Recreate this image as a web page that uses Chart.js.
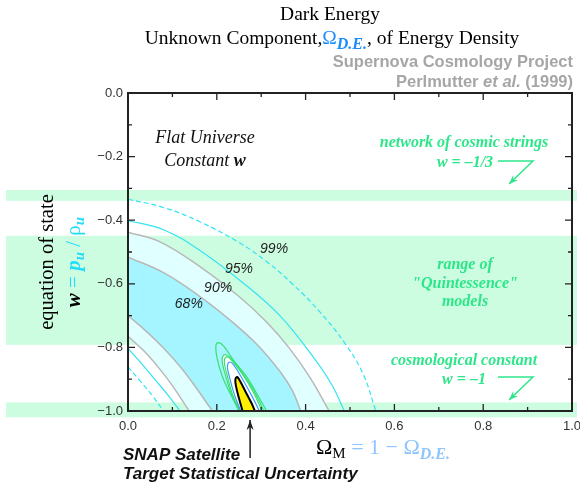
<!DOCTYPE html>
<html>
<head>
<meta charset="utf-8">
<script src="https://cdn.jsdelivr.net/npm/chart.js@4.4.0/dist/chart.umd.min.js"></script>
<style>
  html, body { margin: 0; padding: 0; background: #fff; }
  canvas { display: block; }
</style>
</head>
<body>
<canvas id="chart" width="580" height="487"></canvas>
<script>
// Axis ticks
const xTicks = [0, 0.2, 0.4, 0.6, 0.8, 1.0];
const yTicks = [0, -0.2, -0.4, -0.6, -0.8, -1.0];

// Theory bands (w ranges)
const bandStrings = [-0.305, -0.339];
const bandQuintessence = [-0.449, -0.792];
const bandLambda = [-0.973, -1.02];

// Confidence contours, points are [Omega_M, w]
const outer99 = [[0, -0.334], [0.08, -0.36], [0.162, -0.405], [0.25, -0.47], [0.312, -0.53], [0.37, -0.6], [0.43, -0.685], [0.49, -0.79], [0.53, -0.885], [0.558, -1]];
const outer95 = [[0, -0.401], [0.08, -0.43], [0.162, -0.495], [0.26, -0.598], [0.342, -0.70], [0.417, -0.83], [0.46, -0.92], [0.487, -1]];
const outer90 = [[0, -0.438], [0.072, -0.468], [0.162, -0.546], [0.25, -0.64], [0.312, -0.72], [0.362, -0.80], [0.41, -0.895], [0.453, -1]];
const outer68 = [[0, -0.516], [0.08, -0.565], [0.162, -0.64], [0.23, -0.714], [0.29, -0.79], [0.342, -0.875], [0.37, -0.935], [0.389, -1]];
const inner68 = [[0, -0.70], [0.04, -0.748], [0.08, -0.802], [0.12, -0.865], [0.155, -0.93], [0.19, -1]];
const inner90 = [[0, -0.765], [0.035, -0.81], [0.068, -0.862], [0.1, -0.92], [0.138, -1]];
const inner95 = [[0, -0.803], [0.03, -0.85], [0.06, -0.9], [0.09, -0.95], [0.117, -1]];
const inner99 = [[0, -0.861], [0.027, -0.905], [0.055, -0.952], [0.08, -1]];

// SNAP target contours (upper half, centred on w = -1)
const snapGreen1 = [[0.25, -1], [0.232, -0.95], [0.212, -0.89], [0.2, -0.83], [0.198, -0.795], [0.203, -0.785], [0.215, -0.795], [0.24, -0.845], [0.267, -0.892], [0.29, -0.945], [0.312, -1]];
const snapGreen2 = [[0.252, -1], [0.234, -0.95], [0.218, -0.88], [0.212, -0.84], [0.217, -0.823], [0.228, -0.83], [0.255, -0.875], [0.283, -0.935], [0.306, -1]];
const snapGreen3 = [[0.253, -1], [0.236, -0.95], [0.222, -0.88], [0.217, -0.845], [0.222, -0.83], [0.232, -0.838], [0.258, -0.885], [0.282, -0.94], [0.302, -1]];
const snapBlue = [[0.254, -1], [0.24, -0.95], [0.228, -0.89], [0.224, -0.86], [0.229, -0.846], [0.238, -0.855], [0.258, -0.9], [0.278, -0.95], [0.296, -1]];
const snapCore = [[0.258, -1], [0.25, -0.96], [0.243, -0.92], [0.242, -0.9], [0.246, -0.893], [0.252, -0.905], [0.265, -0.94], [0.278, -0.975], [0.286, -1]];
const snapFiducial = 0.275;

// Percent labels [text, Omega_M, w]
const percentLabels = [['99%', 0.329, -0.49], ['95%', 0.25, -0.553], ['90%', 0.203, -0.613], ['68%', 0.137, -0.664]];

const SERIF = '"Liberation Serif", "Times New Roman", serif';
const SANS = '"Liberation Sans", Arial, sans-serif';
const GREEN = '#2ee68a';
const CYAN = '#33e4f2';
const GRAY = '#b8b8b8';

function pts(list) {
  return list.map(p => ({ x: p[0], y: p[1] }));
}

// Extends an inner curve along w = -1 so it can be used as fill target
// (the part on w = -1 sits under the frame line)
function comFundo(inner, outer) {
  const last = inner[inner.length - 1];
  return inner.concat([[last[0] + 0.001, -1], [outer[outer.length - 1][0], -1]]);
}

function linha(list, color, extra) {
  return Object.assign({
    data: pts(list),
    borderColor: color,
    borderWidth: 1.2,
    pointRadius: 0,
    tension: 0.4,
    fill: false
  }, extra);
}

const datasets = [];
datasets.push(linha(snapCore, '#000', { borderWidth: 2, fill: 'shape', backgroundColor: '#ffee00', order: 0 }));
datasets.push(linha(snapBlue, '#3a9cff', { order: 1 }));
datasets.push(linha(snapGreen3, '#38e070', { order: 2 }));
datasets.push(linha(snapGreen2, '#38e070', { fill: 'shape', backgroundColor: '#ffffff', order: 3 }));
datasets.push(linha(snapGreen1, '#38e070', { order: 4 }));
datasets.push(linha(outer99, CYAN, { borderDash: [5, 3], order: 5 }));
datasets.push(linha(inner99, CYAN, { borderDash: [5, 3], order: 5 }));
datasets.push(linha(outer95, CYAN, { order: 6 }));
datasets.push(linha(inner95, CYAN, { order: 6 }));
const idxIn68 = datasets.length;
datasets.push(linha(comFundo(inner68, outer68), GRAY, { borderWidth: 1.5, order: 7 }));
datasets.push(linha(outer68, GRAY, { borderWidth: 1.5, fill: idxIn68, backgroundColor: '#a4f5ff', order: 8 }));
const idxIn90 = datasets.length;
datasets.push(linha(comFundo(inner90, outer90), GRAY, { borderWidth: 1.5, order: 9 }));
datasets.push(linha(outer90, GRAY, { borderWidth: 1.5, fill: idxIn90, backgroundColor: '#e0ffff', order: 10 }));

// Draws text made of several styled pieces
function textoRuns(ctx, runs, x, y, align) {
  let total = 0;
  runs.forEach(r => { ctx.font = r[1]; total += ctx.measureText(r[0]).width; });
  let cx = align === 'center' ? x - total / 2 : (align === 'right' ? x - total : x);
  ctx.textAlign = 'left';
  ctx.textBaseline = 'alphabetic';
  runs.forEach(r => {
    ctx.font = r[1];
    ctx.fillStyle = r[2];
    ctx.fillText(r[0], cx, y + (r[3] || 0));
    cx += ctx.measureText(r[0]).width;
  });
}

function seta(ctx, path, color, width, head) {
  ctx.save();
  ctx.strokeStyle = color;
  ctx.fillStyle = color;
  ctx.lineWidth = width;
  ctx.beginPath();
  ctx.moveTo(path[0][0], path[0][1]);
  for (let i = 1; i < path.length; i++) ctx.lineTo(path[i][0], path[i][1]);
  ctx.stroke();
  const [xa, ya] = path[path.length - 2];
  const [xb, yb] = path[path.length - 1];
  const ang = Math.atan2(yb - ya, xb - xa);
  ctx.beginPath();
  ctx.moveTo(xb, yb);
  ctx.lineTo(xb - head * Math.cos(ang) + 3.5 * Math.sin(ang), yb - head * Math.sin(ang) - 3.5 * Math.cos(ang));
  ctx.lineTo(xb - head * 0.7 * Math.cos(ang), yb - head * 0.7 * Math.sin(ang));
  ctx.lineTo(xb - head * Math.cos(ang) - 3.5 * Math.sin(ang), yb - head * Math.sin(ang) + 3.5 * Math.cos(ang));
  ctx.closePath();
  ctx.fill();
  ctx.restore();
}

// Green horizontal bands behind everything
function desenharFaixas(chart) {
  const { ctx, scales: { y } } = chart;
  ctx.save();
  ctx.fillStyle = '#ccfde1';
  [bandStrings, bandQuintessence, bandLambda].forEach(b => {
    const y0 = y.getPixelForValue(b[0]);
    const y1 = y.getPixelForValue(b[1]);
    ctx.fillRect(6, y0, 571, y1 - y0);
  });
  ctx.restore();
}

// Box frame with inward ticks on every side
function desenharMoldura(chart) {
  const { ctx, chartArea: a, scales: { x, y } } = chart;
  ctx.save();
  ctx.strokeStyle = '#222';
  ctx.lineWidth = 2;
  ctx.strokeRect(a.left, a.top, a.right - a.left, a.bottom - a.top);
  ctx.lineWidth = 1.3;
  for (let i = 0; i <= 10; i++) {
    const len = i % 2 === 0 ? 7 : 4;
    const px = x.getPixelForValue(i / 10);
    const py = y.getPixelForValue(-i / 10);
    ctx.beginPath();
    ctx.moveTo(px, a.bottom); ctx.lineTo(px, a.bottom - len);
    ctx.moveTo(px, a.top); ctx.lineTo(px, a.top + len);
    ctx.moveTo(a.left, py); ctx.lineTo(a.left + len, py);
    ctx.moveTo(a.right, py); ctx.lineTo(a.right - len, py);
    ctx.stroke();
  }
  ctx.restore();
}

function desenharTextos(chart) {
  const { ctx, scales: { x, y } } = chart;
  ctx.save();

  // Titles
  textoRuns(ctx, [['Dark Energy', '19.5px ' + SERIF, '#000']], 330, 20, 'center');
  textoRuns(ctx, [
    ['Unknown Component,', '19.5px ' + SERIF, '#000'],
    ['\u03A9', '19.5px ' + SERIF, '#1a8cff'],
    ['D.E.', 'bold italic 16px ' + SERIF, '#1a8cff', 5],
    [', of Energy Density', '19.5px ' + SERIF, '#000']
  ], 332, 44, 'center');
  textoRuns(ctx, [['Supernova Cosmology Project', 'bold 16.5px ' + SANS, '#a6a6a6']], 573, 67, 'right');
  textoRuns(ctx, [
    ['Perlmutter ', 'bold 16.5px ' + SANS, '#a6a6a6'],
    ['et al.', 'bold italic 16.5px ' + SANS, '#a6a6a6'],
    [' (1999)', 'bold 16.5px ' + SANS, '#a6a6a6']
  ], 573, 87, 'right');

  // Axis titles
  textoRuns(ctx, [
    ['\u03A9', '22px ' + SERIF, '#000'],
    ['M', '15px ' + SERIF, '#000', 4],
    [' = 1 \u2212 \u03A9', '22px ' + SERIF, '#8ec5ff'],
    ['D.E.', 'bold italic 16px ' + SERIF, '#8ec5ff', 5]
  ], 383, 454, 'center');

  ctx.save();
  ctx.translate(47, 262);
  ctx.rotate(-Math.PI / 2);
  textoRuns(ctx, [['equation of state', '20.5px ' + SERIF, '#000']], 0, 6, 'center');
  textoRuns(ctx, [
    ['w', 'bold italic 21px ' + SERIF, '#000'],
    [' = ', '21px ' + SERIF, '#22ddf8'],
    ['p', 'bold italic 21px ' + SERIF, '#22ddf8'],
    ['u', 'bold italic 15px ' + SERIF, '#22ddf8', 4],
    [' / ', '21px ' + SERIF, '#22ddf8'],
    ['\u03C1', '21px ' + SERIF, '#22ddf8'],
    ['u', 'bold italic 15px ' + SERIF, '#22ddf8', 4]
  ], 0, 33, 'center');
  ctx.restore();

  // Plot annotations
  textoRuns(ctx, [['Flat Universe', 'italic 18px ' + SERIF, '#111']], 205, 143, 'center');
  textoRuns(ctx, [
    ['Constant ', 'italic 18px ' + SERIF, '#111'],
    ['w', 'bold italic 18px ' + SERIF, '#111']
  ], 205, 166, 'center');

  const gf = 'bold italic 16px ' + SERIF;
  textoRuns(ctx, [['network of cosmic strings', gf, GREEN]], 464, 147, 'center');
  textoRuns(ctx, [['w = \u20131/3', gf, GREEN]], 465, 167, 'center');
  textoRuns(ctx, [['range of', gf, GREEN]], 465, 269, 'center');
  textoRuns(ctx, [['"Quintessence"', gf, GREEN]], 465, 288, 'center');
  textoRuns(ctx, [['models', gf, GREEN]], 465, 306, 'center');
  textoRuns(ctx, [['cosmological constant', gf, GREEN]], 464, 365, 'center');
  textoRuns(ctx, [['w = \u20131', gf, GREEN]], 464, 384, 'center');
  seta(ctx, [[498, 161], [533, 161], [509, 184]], GREEN, 1.5, 9);
  seta(ctx, [[498, 377], [533, 377], [509, 400]], GREEN, 1.5, 9);

  // Confidence level labels
  percentLabels.forEach(p => {
    ctx.font = 'italic 14px ' + SANS;
    ctx.fillStyle = '#222';
    ctx.textAlign = 'center';
    ctx.textBaseline = 'middle';
    ctx.fillText(p[0], x.getPixelForValue(p[1]), y.getPixelForValue(p[2]));
  });

  // SNAP note
  const sf = 'bold italic 17px ' + SANS;
  textoRuns(ctx, [['SNAP Satellite', sf, '#111']], 123, 460, 'left');
  textoRuns(ctx, [['Target Statistical Uncertainty', sf, '#111']], 123, 479, 'left');
  const xs = x.getPixelForValue(snapFiducial);
  seta(ctx, [[xs, 458], [xs, 420]], '#222', 1.5, 10);

  ctx.restore();
}

const decoracoes = {
  id: 'decoracoes',
  beforeDraw: desenharFaixas,
  afterDatasetsDraw: desenharMoldura,
  afterDraw: desenharTextos
};

const tickFont = { family: 'Liberation Sans', size: 13 };

new Chart(document.getElementById('chart'), {
  type: 'line',
  data: { datasets: datasets },
  options: {
    responsive: false,
    animation: false,
    devicePixelRatio: 1,
    layout: { padding: { left: 88, right: 8, top: 93, bottom: 48 } },
    plugins: { legend: { display: false }, tooltip: { enabled: false } },
    events: [],
    scales: {
      x: {
        type: 'linear', min: 0, max: 1,
        grid: { display: false, drawTicks: false },
        border: { display: false },
        afterBuildTicks: s => { s.ticks = xTicks.map(v => ({ value: v })); },
        ticks: { padding: 8, color: '#333', font: tickFont, maxRotation: 0, callback: v => v.toFixed(1) },
        afterFit: s => { s.height = 28; s.paddingLeft = 0; s.paddingRight = 0; }
      },
      y: {
        type: 'linear', min: -1, max: 0,
        grid: { display: false, drawTicks: false },
        border: { display: false },
        afterBuildTicks: s => { s.ticks = yTicks.map(v => ({ value: v })); },
        ticks: { padding: 5, color: '#333', font: tickFont, callback: v => (v < 0 ? '\u2212' : '') + Math.abs(v).toFixed(1) },
        afterFit: s => { s.width = 40; s.paddingTop = 0; s.paddingBottom = 0; }
      }
    }
  },
  plugins: [decoracoes]
});
</script>
</body>
</html>
